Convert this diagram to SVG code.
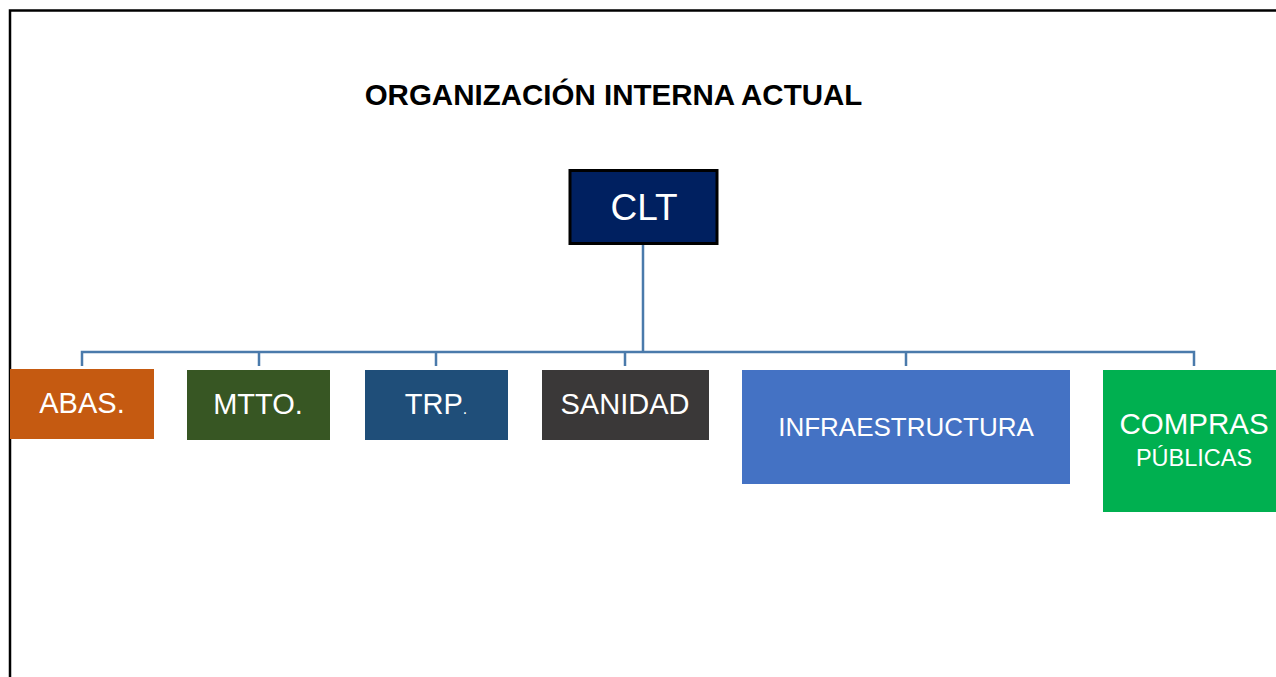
<svg xmlns="http://www.w3.org/2000/svg" width="1276" height="677" viewBox="0 0 1276 677">
<style>
text{font-family:"Liberation Sans",Arial,sans-serif;fill:#fff;text-anchor:middle}
.conn{stroke:#4a7aab;stroke-width:2.5;fill:none}
</style>
<rect width="1276" height="677" fill="#fff"/>
<path d="M10,690 V10.5 H1290" fill="none" stroke="#000" stroke-width="2.5"/>
<text x="613.5" y="105" style="fill:#000;font-weight:bold;font-size:29.5px">ORGANIZACIÓN INTERNA ACTUAL</text>
<g id="connectors">
<path class="conn" d="M643,245 V352 M82,366 V352 H1194 V366 M259,352 V366 M436,352 V366 M625,352 V366 M906,352 V366"/>
</g>
<g id="clt">
<rect x="570" y="170.5" width="147" height="73" fill="#002060" stroke="#000" stroke-width="3"/>
<text x="644" y="220" font-size="37">CLT</text>
</g>
<g id="abas">
<rect x="10" y="369" width="144" height="70" fill="#c55a11"/>
<text x="82" y="413" font-size="29">ABAS.</text>
</g>
<g id="mtto">
<rect x="187" y="370" width="143" height="70" fill="#375623"/>
<text x="258" y="414" font-size="29">MTTO.</text>
</g>
<g id="trp">
<rect x="365" y="370" width="143" height="70" fill="#1f4e79"/>
<text x="436" y="414" font-size="29">TRP<tspan font-size="16">.</tspan></text>
</g>
<g id="sanidad">
<rect x="542" y="370" width="167" height="70" fill="#3a3838"/>
<text x="625" y="414" font-size="29">SANIDAD</text>
</g>
<g id="infraestructura">
<rect x="742" y="370" width="328" height="114" fill="#4472c4"/>
<text x="906" y="436" font-size="26">INFRAESTRUCTURA</text>
</g>
<g id="compras">
<rect x="1103" y="370" width="173" height="142" fill="#00b050"/>
<text x="1194" y="434" font-size="29.5">COMPRAS</text>
<text x="1194" y="466" font-size="23.5">PÚBLICAS</text>
</g>
</svg>
